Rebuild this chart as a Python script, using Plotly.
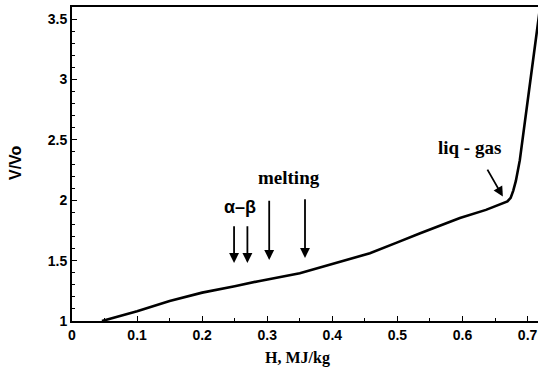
import plotly.graph_objects as go

# Curve: enthalpy H (MJ/kg) vs relative volume V/Vo
h_vals = [0.046, 0.07, 0.10, 0.15, 0.20, 0.25, 0.2885, 0.35, 0.4115, 0.4577, 0.499,
          0.535, 0.596, 0.636, 0.669, 0.674, 0.678, 0.682, 0.688, 0.696, 0.706, 0.716, 0.72]
v_vals = [1.0, 1.035, 1.08, 1.165, 1.235, 1.288, 1.332, 1.396, 1.487, 1.561, 1.649,
          1.727, 1.852, 1.92, 1.99, 2.02, 2.08, 2.16, 2.33, 2.667, 3.07, 3.47, 3.63]

# Transition arrows (x position, arrow tail y, arrow head y)
arrow_x = [0.249, 0.2695, 0.303, 0.358]
arrow_top = [1.796, 1.796, 2.009, 2.02]
arrow_bottom = [1.481, 1.481, 1.506, 1.522]

# Labels
label_text = ["α–β", "melting", "liq - gas"]
label_x = [0.2575, 0.334, 0.61]
label_y = [1.945, 2.19, 2.44]

# liq-gas arrow
lg_tail = (0.637, 2.266)
lg_head = (0.662, 2.03)

x_ticks = [0, 0.1, 0.2, 0.3, 0.4, 0.5, 0.6, 0.7]
y_ticks = [1, 1.5, 2, 2.5, 3, 3.5]

fig = go.Figure()
fig.add_trace(go.Scatter(x=h_vals, y=v_vals, mode="lines",
                         line=dict(color="black", width=2.6),
                         showlegend=False, hoverinfo="skip"))

annotations = []
for x, yt, yb in zip(arrow_x, arrow_top, arrow_bottom):
    annotations.append(dict(x=x, y=yb, ax=x, ay=yt, xref="x", yref="y", axref="x", ayref="y",
                            showarrow=True, arrowhead=2, arrowsize=1.1, arrowwidth=1.8,
                            arrowcolor="black", text=""))
annotations.append(dict(x=lg_head[0], y=lg_head[1], ax=lg_tail[0], ay=lg_tail[1],
                        xref="x", yref="y", axref="x", ayref="y",
                        showarrow=True, arrowhead=2, arrowsize=1.1, arrowwidth=1.8,
                        arrowcolor="black", text=""))
fonts = [dict(family="Liberation Sans", size=18, color="black", weight="bold"),
         dict(family="Liberation Serif", size=19, color="black", weight="bold"),
         dict(family="Liberation Serif", size=19, color="black", weight="bold")]
for t, x, y, f in zip(label_text, label_x, label_y, fonts):
    annotations.append(dict(x=x, y=y, xref="x", yref="y", text=t, showarrow=False, font=f))

W, H = 538, 368
L, R, T, B = 72, 0, 7, 47
pw, ph = W - L - R, H - T - B

# Axis titles placed at pixel positions (converted to paper coords)
annotations.append(dict(x=(297 - L) / pw, y=(H - B - 358) / ph, xref="paper", yref="paper",
                        xanchor="center", yanchor="middle",
                        text="<b>H, MJ/kg</b>", showarrow=False,
                        font=dict(family="Liberation Serif", size=16, color="black")))
annotations.append(dict(x=(15 - L) / pw, y=(H - B - 163) / ph, xref="paper", yref="paper",
                        xanchor="center", yanchor="middle",
                        text="<b>V/Vo</b>", showarrow=False, textangle=-90,
                        font=dict(family="Liberation Sans", size=16, color="black")))

fig.update_layout(
    width=W, height=H,
    margin=dict(l=L, r=R, t=T, b=B, autoexpand=False),
    plot_bgcolor="white", paper_bgcolor="white",
    annotations=annotations,
    xaxis=dict(range=[0, 0.716], tickvals=x_ticks, ticktext=["<b>%s</b>" % v for v in x_ticks],
               ticks="inside", ticklen=5, tickwidth=1, tickcolor="black",
               minor=dict(dtick=0.05, ticks="inside", ticklen=3, tickcolor="black"),
               showline=True, linecolor="black", linewidth=2, mirror=True,
               showgrid=False, zeroline=False, automargin=False,
               tickfont=dict(family="Liberation Sans", size=14, color="black")),
    yaxis=dict(range=[1, 3.6], tickvals=y_ticks, ticktext=["<b>%s</b>" % v for v in y_ticks],
               ticks="inside", ticklen=5, tickwidth=1, tickcolor="black",
               minor=dict(dtick=0.1, ticks="inside", ticklen=3, tickcolor="black"),
               showline=True, linecolor="black", linewidth=2, mirror=False,
               showgrid=False, zeroline=False, automargin=False,
               tickfont=dict(family="Liberation Sans", size=14, color="black")),
)
fig.write_html("out.html", config={"displayModeBar": False},
               post_script="document.body.style.margin='0px';document.body.style.overflow='hidden';")
